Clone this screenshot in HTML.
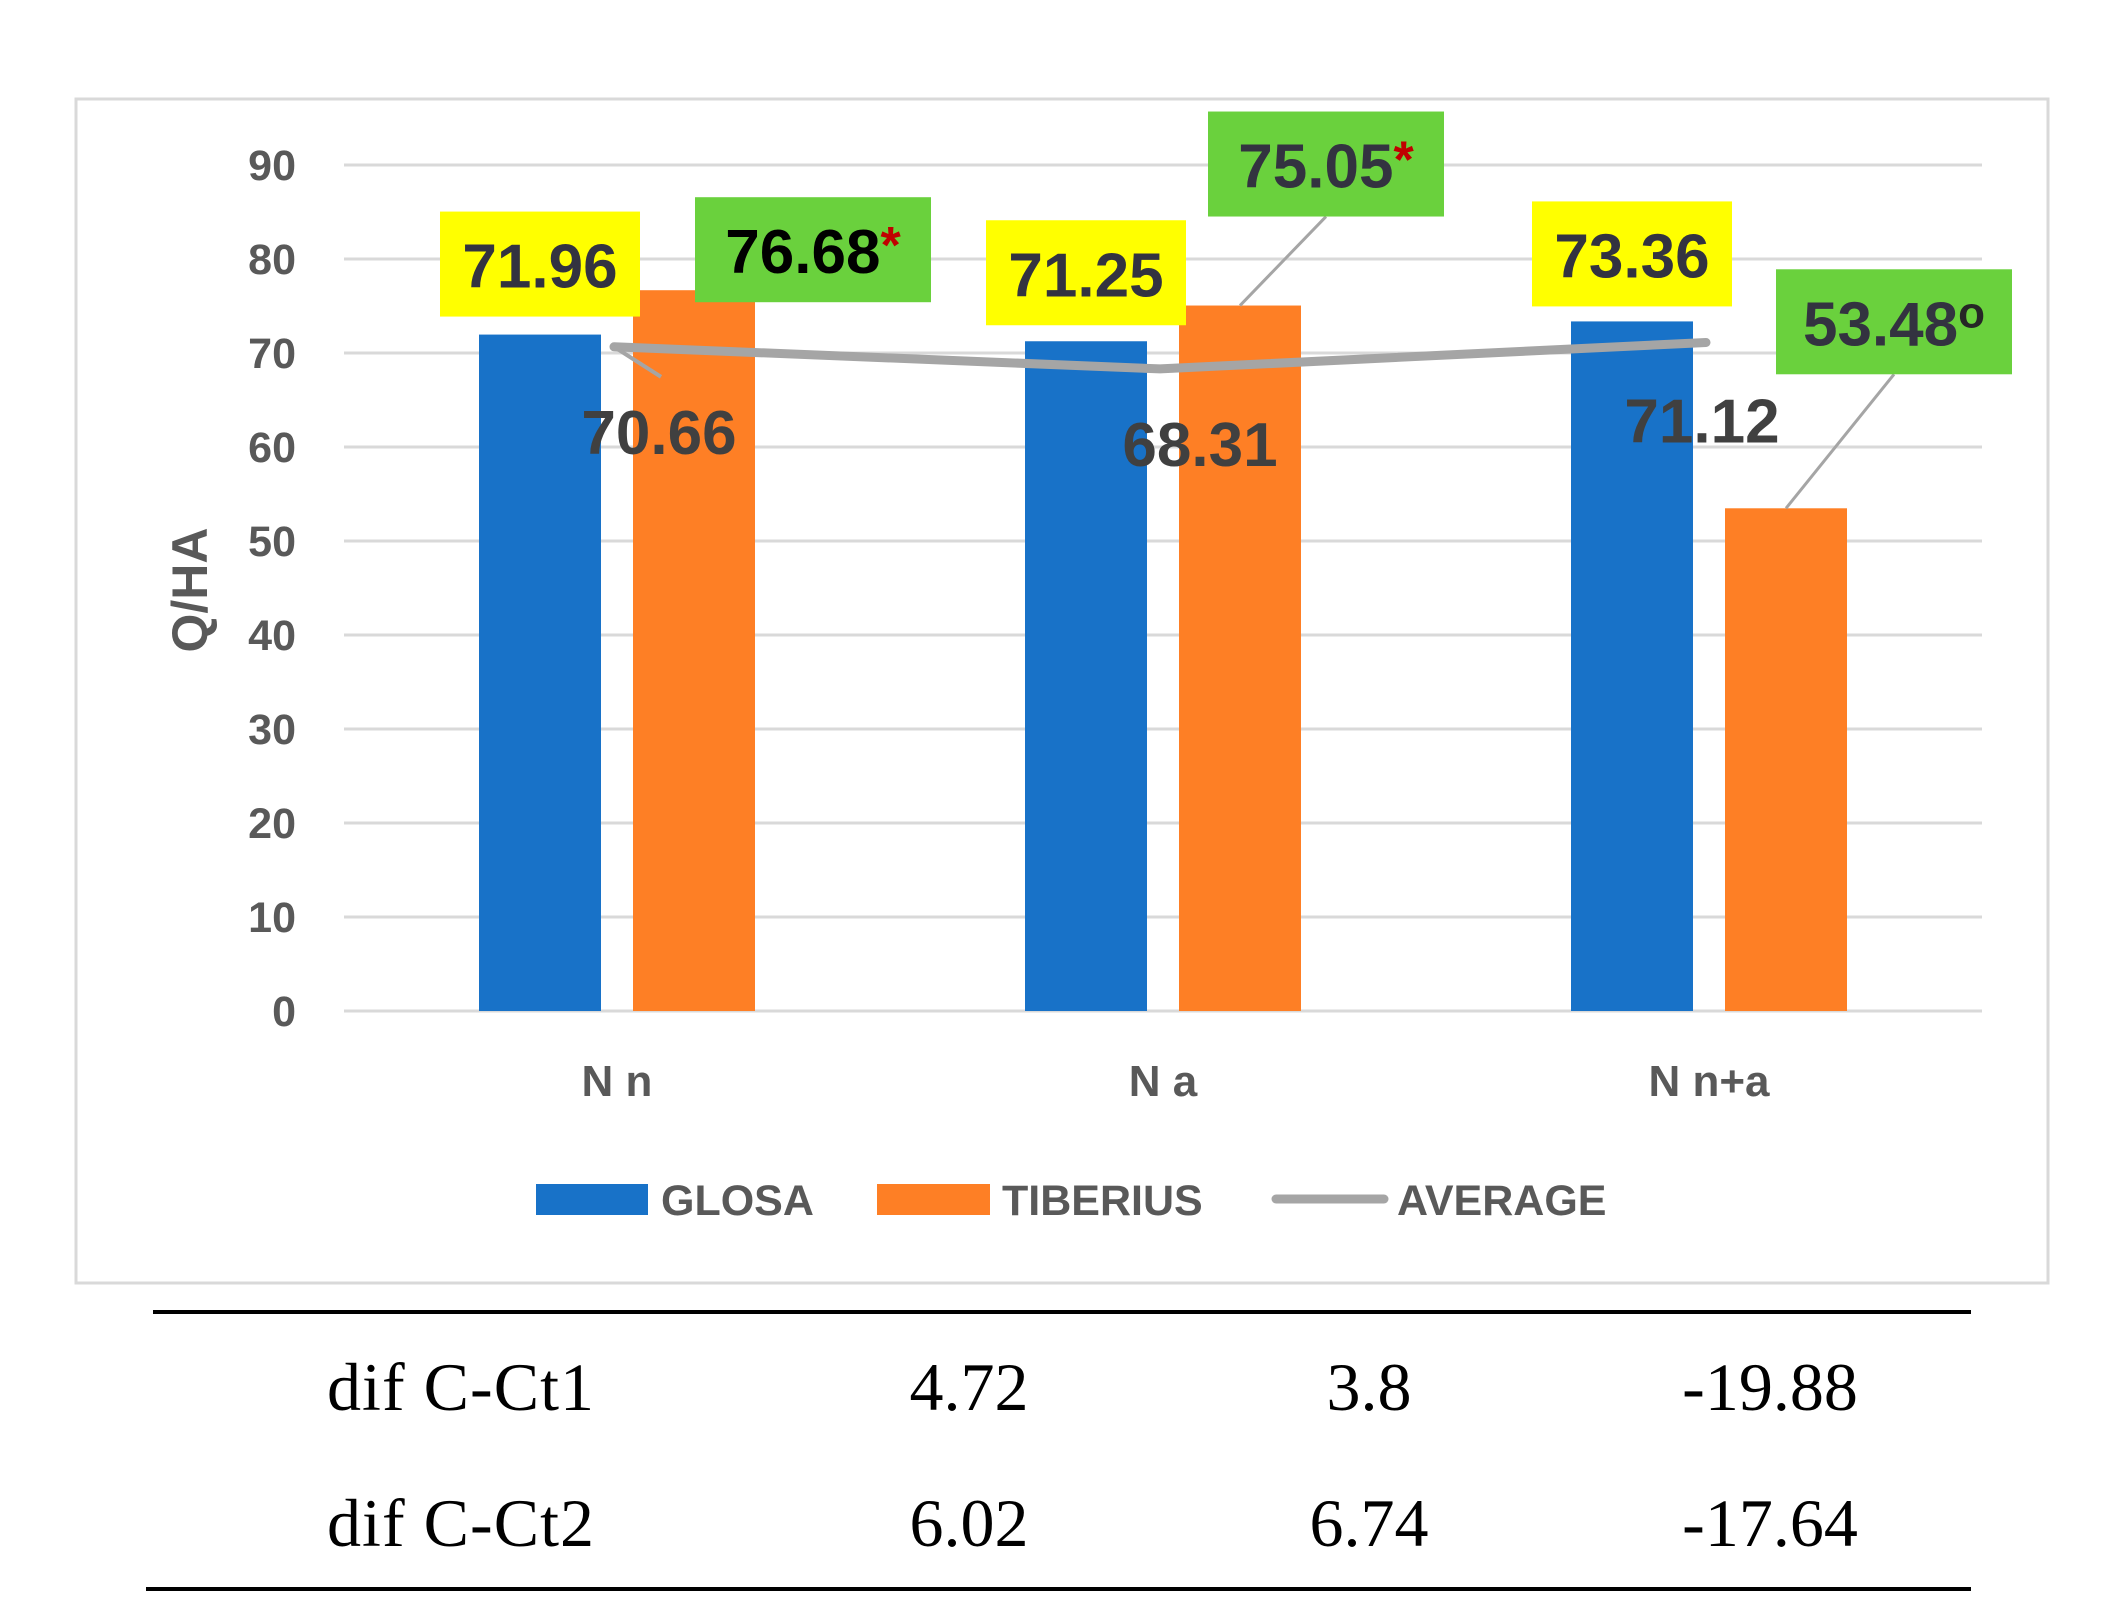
<!DOCTYPE html>
<html><head><meta charset="utf-8"><style>
html,body{margin:0;padding:0;background:#fff;}
svg{display:block;}
</style></head><body>
<svg width="2117" height="1621" viewBox="0 0 2117 1621" xmlns="http://www.w3.org/2000/svg">
<rect x="76" y="99" width="1972" height="1184" fill="#fff" stroke="#d9d9d9" stroke-width="3"/>
<g id="grid"></g>
<g id="bars"></g>
<g id="avg"></g>
<g id="labels"></g>
<text x="0" y="0" transform="translate(207,590) rotate(-90)" text-anchor="middle" font-family="Liberation Sans, sans-serif" font-weight="bold" font-size="50" fill="#595959">Q/HA</text>
<g font-family="Liberation Sans, sans-serif" font-weight="bold" font-size="43" fill="#595959">
<g><rect x="536" y="1184" width="112" height="31" fill="#1872c8"/><text x="661" y="1215">GLOSA</text></g>
<g><rect x="877" y="1184" width="113" height="31" fill="#fe7f25"/><text x="1002" y="1215">TIBERIUS</text></g>
<g><line x1="1276" y1="1199" x2="1384" y2="1199" stroke="#a5a5a5" stroke-width="9" stroke-linecap="round"/><text x="1397" y="1215">AVERAGE</text></g>
</g>
<g font-family="Liberation Serif, serif" font-size="68" fill="#000">
<line x1="153" y1="1312" x2="1971" y2="1312" stroke="#000" stroke-width="4"/>
<line x1="146" y1="1589" x2="1971" y2="1589" stroke="#000" stroke-width="4"/>
<g>
<text x="327" y="1410" textLength="267">dif C-Ct1</text>
<text x="969" y="1410" text-anchor="middle">4.72</text>
<text x="1369" y="1410" text-anchor="middle">3.8</text>
<text x="1770" y="1410" text-anchor="middle">-19.88</text>
</g>
<g>
<text x="327" y="1546" textLength="267">dif C-Ct2</text>
<text x="969" y="1546" text-anchor="middle">6.02</text>
<text x="1369" y="1546" text-anchor="middle">6.74</text>
<text x="1770" y="1546" text-anchor="middle">-17.64</text>
</g>
</g>
</svg>
<script>
const categories = ["N n", "N a", "N n+a"];
const glosa = [71.96, 71.25, 73.36];
const tiberius = [76.68, 75.05, 53.48];
const average = [70.66, 68.31, 71.12];
const yTicks = [0, 10, 20, 30, 40, 50, 60, 70, 80, 90];
const tiberiusMarks = ["*", "*", "o"];

const NS = "http://www.w3.org/2000/svg";
const plotL = 344, plotR = 1982, y0 = 1011, y90 = 165;
const yScale = v => y0 - (v / 90) * (y0 - y90);
const catW = (plotR - plotL) / categories.length;
const xCenter = i => plotL + catW * (i + 0.5);
const barW = 122, gap = 32;
function mk(tag, attrs, parent) {
  const e = document.createElementNS(NS, tag);
  for (const k in attrs) e.setAttribute(k, attrs[k]);
  parent.appendChild(e);
  return e;
}
const grid = document.getElementById("grid");
yTicks.forEach(t => {
  const l = mk("line", {x1: plotL, x2: plotR, y1: yScale(t), y2: yScale(t), stroke: "#d9d9d9", "stroke-width": 3}, grid);
  
  
  const tx = mk("text", {x: 296, y: yScale(t) + 15, "text-anchor": "end", "font-family": "Liberation Sans, sans-serif", "font-weight": "bold", "font-size": 43, fill: "#595959"}, grid);
  tx.textContent = t;
  
  
});
const bars = document.getElementById("bars");
categories.forEach((c, i) => {
  const cx = xCenter(i);
  const gx = cx - gap / 2 - barW, tx = cx + gap / 2;
  const b1 = mk("rect", {x: gx, y: yScale(glosa[i]), width: barW, height: y0 - yScale(glosa[i]), fill: "#1872c8"}, bars);
  
  
  const b2 = mk("rect", {x: tx, y: yScale(tiberius[i]), width: barW, height: y0 - yScale(tiberius[i]), fill: "#fe7f25"}, bars);
  
  
  const cl = mk("text", {x: cx, y: 1096, "text-anchor": "middle", "font-family": "Liberation Sans, sans-serif", "font-weight": "bold", "font-size": 44, fill: "#595959"}, bars);
  cl.textContent = c;
  
  
});
const avg = document.getElementById("avg");
const pts = average.map((v, i) => (xCenter(i) - 3) + "," + yScale(v)).join(" ");
const pl = mk("polyline", {points: pts, fill: "none", stroke: "#a5a5a5", "stroke-width": 9, "stroke-linejoin": "round", "stroke-linecap": "round"}, avg);



const labels = document.getElementById("labels");
const gBoxDy = [-123, -121, -120];
const tBoxDy = [-93, -194, -239];
const tBoxDx = [119, 86, 108];
const avgDx = [42, 37, -7];
const avgDy = [107, 97, 100];
function boxLabel(cx, topY, w, fill, value, mark, txtFill) {
  const g = mk("g", {}, labels);
  mk("rect", {x: cx - w / 2, y: topY, width: w, height: 105, fill: fill}, g);
  const t = mk("text", {x: cx, y: topY + 76, "text-anchor": "middle", "font-family": "Liberation Sans, sans-serif", "font-weight": "bold", "font-size": 62, fill: txtFill}, g);
  t.textContent = value.toFixed(2);
  if (mark) {
    const s = mk("tspan", {fill: mark === "*" ? "#c00000" : "#262626", "font-size": mark === "*" ? 52 : 44, dy: mark === "*" ? -10 : -18}, t);
    s.textContent = mark;
  }
  return g;
}
categories.forEach((c, i) => {
  const cx = xCenter(i);
  const gcx = cx - gap / 2 - barW / 2, tcx = cx + gap / 2 + barW / 2;
  const gl = boxLabel(gcx, yScale(glosa[i]) + gBoxDy[i], 200, "#ffff00", glosa[i], "", "#333340");
  
  
  const bx = tcx + tBoxDx[i], by = yScale(tiberius[i]) + tBoxDy[i];
  if (i > 0) {
    const ld = mk("line", {x1: bx, y1: by + 105, x2: tcx, y2: yScale(tiberius[i]), stroke: "#a5a5a5", "stroke-width": 3}, labels);
    
    
  }
  const tl = boxLabel(bx, by, 236, "#6ad13d", tiberius[i], tiberiusMarks[i], i === 0 ? "#000" : "#333340");
  
  
  const ax = cx + avgDx[i], ay = yScale(average[i]) + avgDy[i];
  if (i === 0) {
    const ld = mk("line", {x1: cx - 3, y1: yScale(average[i]), x2: cx + 44, y2: yScale(average[i]) + 30, stroke: "#a5a5a5", "stroke-width": 4}, labels);
    
    
  }
  const at = mk("text", {x: ax, y: ay, "text-anchor": "middle", "font-family": "Liberation Sans, sans-serif", "font-weight": "bold", "font-size": 62, fill: "#404040"}, labels);
  at.textContent = average[i].toFixed(2);
  
  
});
</script>
</body></html>
